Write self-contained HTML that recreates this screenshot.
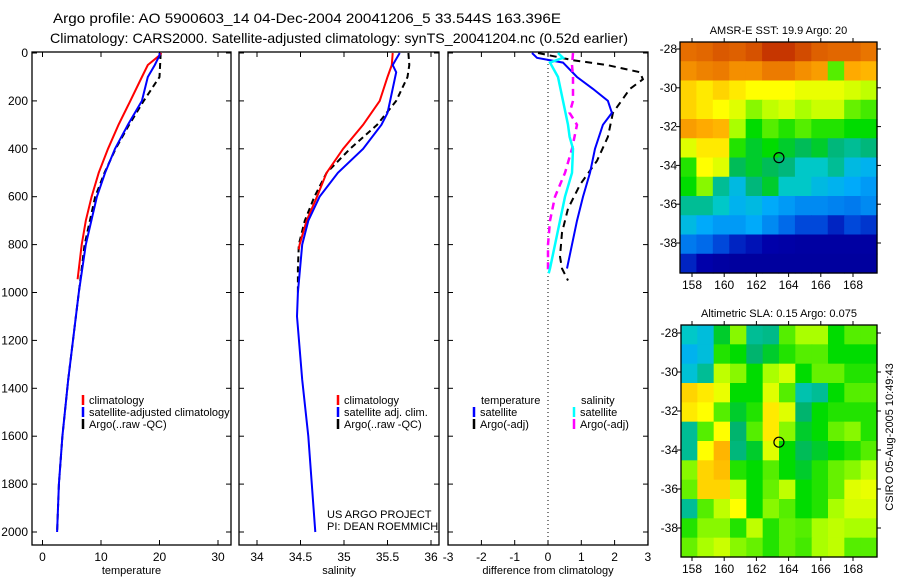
<!DOCTYPE html>
<html><head><meta charset="utf-8"><style>
html,body{margin:0;padding:0;background:#fff;}
svg{display:block;font-family:"Liberation Sans",sans-serif;}
</style></head><body>
<svg id="fig" width="900" height="580" viewBox="0 0 900 580" xmlns="http://www.w3.org/2000/svg">
<text x="53" y="23" font-size="14" textLength="508" lengthAdjust="spacingAndGlyphs">Argo profile: AO 5900603_14 04-Dec-2004 20041206_5 33.544S 163.396E</text>
<text x="50" y="43" font-size="14" textLength="578" lengthAdjust="spacingAndGlyphs">Climatology: CARS2000. Satellite-adjusted climatology: synTS_20041204.nc (0.52d earlier)</text>
<g id="plots"></g>
</svg>
<script>
// ---------- data ----------
const depthTicks=[0,200,400,600,800,1000,1200,1400,1600,1800,2000];
const tempTicks=[0,10,20,30];
const salTicks=[34,34.5,35,35.5,36];
const diffTicks=[-3,-2,-1,0,1,2,3];
// temperature profiles
const tClimP=[0,10,50,100,200,300,400,500,600,700,800,945];
const tClimV=[20.3,20.0,18.0,17.0,15.0,13.0,11.2,9.6,8.4,7.4,6.7,6.0];
const tSatP=[0,10,50,100,200,300,400,500,600,800,1000,1364,1600,1800,2000];
const tSatV=[20.0,20.0,19.2,18.0,17.0,14.6,12.4,10.7,9.3,7.4,6.2,4.4,3.4,2.8,2.5];
const tArgoP=[0,50,100,200,300,400,500,600,800,1000,1364,1600,1800,2000];
const tArgoV=[20.2,20.1,20.0,17.3,14.8,12.5,10.6,9.0,7.2,6.2,4.4,3.4,2.8,2.5];
// salinity profiles
const sClimP=[0,50,100,200,300,400,500,600,700,800,820];
const sClimV=[35.56,35.55,35.5,35.41,35.22,34.99,34.8,34.69,34.57,34.49,34.48];
const sSatP=[0,50,80,200,250,300,400,500,600,700,800,1000,1100,1364,1600,2000];
const sSatV=[35.64,35.56,35.6,35.53,35.5,35.43,35.22,34.93,34.72,34.59,34.52,34.47,34.46,34.52,34.59,34.67];
const sArgoP=[0,50,100,200,300,400,500,600,700,800,900,1000];
const sArgoV=[35.74,35.75,35.73,35.6,35.38,35.07,34.8,34.66,34.55,34.48,34.47,34.47];
// differences
const dTSatP=[0,20,40,100,150,200,250,300,400,500,600,700,800,900];
const dTSatV=[-0.48,-0.33,0.45,0.87,1.35,1.8,1.92,1.65,1.41,1.26,1.05,0.87,0.72,0.57];
const dTArgoP=[0,30,50,80,110,150,250,350,450,550,650,750,850,900,950];
const dTArgoV=[-0.3,0.75,1.77,2.76,2.85,2.46,1.95,1.8,1.47,0.96,0.6,0.42,0.36,0.42,0.6];
const dSSatP=[0,20,40,100,200,300,350,400,500,600,700,800,900,920];
const dSSatV=[0.3,0.45,0.06,0.3,0.45,0.6,0.65,0.75,0.72,0.51,0.36,0.21,0.06,0.02];
const dSArgoP=[0,50,100,200,250,300,400,500,600,700,800,900,920];
const dSArgoV=[0.75,0.72,0.75,0.75,0.65,0.87,0.72,0.51,0.21,0.06,0.0,0.0,0.0];
// maps (colour index 0..10, rows north->south)
const lonTicks=[158,160,162,164,166,168];
const latTicks=[-28,-30,-32,-34,-36,-38];
const sstGrid=[
[8.5,8.6,8.8,8.7,8.9,9.3,9.3,9,8.7,8.6,8.6,8.4],
[8,8.2,8.3,8,8,8.3,8.3,8,7.8,5.5,7.6,7.5],
[7.2,7,7.2,7,6.8,6.8,6.8,6.6,6.6,6.6,6.4,6.2],
[7.2,7,6.8,6.5,5.8,6.2,6.4,6.0,6.3,6.3,5.6,5.4],
[7.8,7.6,7.5,6,5,5.5,5.2,5.5,5.2,5.2,5,5],
[6.5,7,7,5.2,4.8,5,4.8,4.6,4.8,4.4,4.2,4.4],
[5.2,6.8,6.5,4.6,4.8,4.6,4.4,3.8,3.8,4.2,3.4,3.2],
[5,5.8,4.2,3.4,4.4,4.8,3.8,3.8,3.4,3.2,3,2.8],
[4.2,4.2,3.8,3.2,3.4,3.0,2.8,2.6,2.6,2.5,2.4,2.6],
[3.4,3.0,2.8,2.8,3.0,2.6,2.2,1.8,1.8,1.4,1.8,1.6],
[2.4,2.2,1.8,1.4,1.2,1.0,0.9,0.8,0.8,0.8,0.8,0.8],
[1.4,1.0,0.8,0.7,0.7,0.7,0.7,0.7,0.7,0.7,0.7,0.7]];
const slaGrid=[
[3.8,3.5,4.8,5.8,4.2,4.3,5.5,6,6,5,5.5,5.5],
[3.2,3.5,5.2,5,4.5,4.8,5.2,5.5,5.5,5,5,5],
[3.6,4.2,6.2,5.8,5,6,6.4,5,5.6,5.6,5.2,5.2],
[7.2,7,6.6,5,5,6.5,5.5,4,4.2,5,5.5,5.5],
[7,6.8,5.5,4.8,5.2,7,6.5,4.5,5,5.2,5.2,5.2],
[4.2,5.5,6.8,4.5,5.5,7,5.8,4.8,5,5.6,5.8,5.2],
[4.2,6.8,7.5,4.4,4.8,6.5,5,4.6,4.8,5,5.2,5.5],
[5.8,7.2,7.4,5.2,5,5.5,5,4.8,5.2,5.6,5.8,6.2],
[5.6,7.2,7.2,6.2,5,5.6,6.2,5,5.2,5.6,6.5,6.6],
[4.2,5.5,6.2,6.8,5,5.8,5.5,5,5.2,6,6.4,6.4],
[5.2,5.8,5.8,5.2,6.2,5.2,5.6,5.5,6,6.2,6,6],
[5.6,6,6.3,5.8,5.6,5.2,5.6,5.4,6,6.2,5.5,5.5]];
const argoLon=163.4, argoLat=-33.6;

// ---------- helpers ----------
const NS="http://www.w3.org/2000/svg";
const root=document.getElementById('plots');
function mk(tag,attrs,parent){const e=document.createElementNS(NS,tag);for(const k in attrs)e.setAttribute(k,attrs[k]);(parent||root).appendChild(e);return e;}
function txt(x,y,s,size,anchor,parent){const t=mk('text',{x:x,y:y,'font-size':size,'text-anchor':anchor||'start'},parent);t.textContent=s;return t;}
const Y=p=>53+p*0.2395;
const PT=v=>42.5+v*5.85;
const PS=v=>257+(v-34)*87;
const PD=v=>548+v*33.3;
const TOP=52,BOT=545;

function frame(x0,x1,name){
  const r=mk('rect',{x:x0,y:TOP,width:x1-x0,height:BOT-TOP,fill:'none',stroke:'#000','stroke-width':1.3});
  
  
  depthTicks.forEach(p=>{mk('line',{x1:x0,x2:x0+5,y1:Y(p),y2:Y(p),stroke:'#000'});mk('line',{x1:x1,x2:x1-5,y1:Y(p),y2:Y(p),stroke:'#000'});});
}
function xticks(ticks,fx,x0,x1,fmt,label,name){
  ticks.forEach(v=>{const x=fx(v);mk('line',{x1:x,x2:x,y1:BOT,y2:BOT-5,stroke:'#000'});mk('line',{x1:x,x2:x,y1:TOP,y2:TOP+5,stroke:'#000'});
    const t=txt(x,561,fmt(v),12,'middle');});
  const l=txt((x0+x1)/2,574,label,11,'middle');
  
  
}
function line(P,V,fx,color,dash,name,w){
  const d=P.map((p,i)=>(i?'L':'M')+fx(V[i]).toFixed(1)+' '+Y(p).toFixed(1)).join(' ');
  const e=mk('path',{d:d,fill:'none',stroke:color,'stroke-width':w||2,'stroke-dasharray':dash||'none'});
  
  
}
function legend(x,y,color,label,name){
  mk('line',{x1:x,x2:x,y1:y-9,y2:y+1,stroke:color,'stroke-width':2.5});
  const t=txt(x+6,y,label,11);
  
  
}

// ---------- panels ----------
frame(32,231,'temperature-panel');frame(239,439,'salinity-panel');frame(448,648,'difference-panel');
depthTicks.forEach(p=>{const t=txt(28,Y(p)+4,String(p),12,'end');});
xticks(tempTicks,PT,32,231,String,'temperature','temperature-axis-title');
xticks(salTicks,PS,239,439,String,'salinity','salinity-axis-title');
xticks(diffTicks,PD,448,648,String,'difference from climatology','difference-axis-title');
mk('line',{x1:PD(0),x2:PD(0),y1:TOP,y2:BOT,stroke:'#000','stroke-dasharray':'1 3'});

line(tArgoP,tArgoV,PT,'#000','6 4','temp-argo-line');
line(tClimP,tClimV,PT,'#f00','','temp-climatology-line');
line(tSatP,tSatV,PT,'#00f','','temp-satellite-line');
line(sArgoP,sArgoV,PS,'#000','6 4','sal-argo-line');
line(sClimP,sClimV,PS,'#f00','','sal-climatology-line');
line(sSatP,sSatV,PS,'#00f','','sal-satellite-line');
line(dTArgoP,dTArgoV,PD,'#000','7 5','diff-temp-argo-line');
line(dTSatP,dTSatV,PD,'#00f','','diff-temp-satellite-line');
line(dSArgoP,dSArgoV,PD,'#f0f','7 5','diff-sal-argo-line',2.5);
line(dSSatP,dSSatV,PD,'#0ff','','diff-sal-satellite-line',2.5);

legend(83,404,'#f00','climatology','legend-climatology');
legend(83,416,'#00f','satellite-adjusted climatology','legend-satellite');
legend(83,428,'#000','Argo(..raw -QC)','legend-argo');
legend(338,404,'#f00','climatology','legend-sal-climatology');
legend(338,416,'#00f','satellite adj. clim.','legend-sal-satellite');
legend(338,428,'#000','Argo(..raw -QC)','legend-sal-argo');
txt(481,404,'temperature',11);
legend(474,416,'#00f','satellite','legend-diff-temp-satellite');
legend(474,428,'#000','Argo(-adj)','legend-diff-temp-argo');
txt(581,404,'salinity',11);
legend(574,416,'#0ff','satellite','legend-diff-sal-satellite');
legend(574,428,'#f0f','Argo(-adj)','legend-diff-sal-argo');
txt(327,518,'US ARGO PROJECT',11);
txt(327,530,'PI: DEAN ROEMMICH',11);

// ---------- maps ----------
const cmapStops=[[0,[0,0,130]],[1,[0,0,170]],[2,[0,90,230]],[3,[0,170,250]],[3.8,[0,200,200]],[4.5,[0,180,110]],[5,[0,220,0]],[6,[170,255,0]],[6.8,[255,255,0]],[7.6,[255,170,0]],[8.5,[230,110,0]],[9.5,[190,40,0]]];
function cmap(v){
  if(v<=cmapStops[0][0])return 'rgb('+cmapStops[0][1].join(',')+')';
  for(let i=1;i<cmapStops.length;i++){
    if(v<=cmapStops[i][0]){const a=cmapStops[i-1],b=cmapStops[i],t=(v-a[0])/(b[0]-a[0]);
      return 'rgb('+a[1].map((c,k)=>Math.round(c+(b[1][k]-c)*t)).join(',')+')';}
  }
  return 'rgb('+cmapStops[cmapStops.length-1][1].join(',')+')';
}
function map(grid,x0,y0,x1,y1,lat28,lat38,title,name){
  const g=mk('g',{});
  
  
  const nr=grid.length,nc=grid[0].length,cw=(x1-x0)/nc,ch=(y1-y0)/nr;
  grid.forEach((row,r)=>row.forEach((v,c)=>{
    const cell=mk('rect',{x:(x0+c*cw).toFixed(2),y:(y0+r*ch).toFixed(2),width:(cw+0.6).toFixed(2),height:(ch+0.6).toFixed(2),fill:cmap(v)},g);
    
    
  }));
  const LX=lon=>692+(lon-158)*16.1;
  const LY=lat=>lat28+(-28-lat)*(lat38-lat28)/10;
  mk('rect',{x:x0,y:y0,width:x1-x0,height:y1-y0,fill:'none',stroke:'#000','stroke-width':1.3},g);
  lonTicks.forEach(l=>{const x=LX(l);mk('line',{x1:x,x2:x,y1:y1,y2:y1+4,stroke:'#000'},g);mk('line',{x1:x,x2:x,y1:y0,y2:y0-4,stroke:'#000'},g);txt(x,y1+16,String(l),12,'middle',g);});
  latTicks.forEach(l=>{const y=LY(l);mk('line',{x1:x0,x2:x0-4,y1:y,y2:y,stroke:'#000'},g);mk('line',{x1:x1,x2:x1+4,y1:y,y2:y,stroke:'#000'},g);txt(x0-3,y+4,String(l),12,'end',g);});
  const c=mk('circle',{cx:LX(argoLon),cy:LY(argoLat),r:5,fill:'none',stroke:'#000','stroke-width':1.2},g);
  
  
  const t=txt((x0+x1)/2,y0-8,title,11,'middle',g);
  
  
}
map(sstGrid,680,42,877,273,49,243,'AMSR-E SST: 19.9 Argo: 20','sst-map');
map(slaGrid,681,325,877,557,333,528,'Altimetric SLA: 0.15 Argo: 0.075','sla-map');
const st=txt(0,0,'CSIRO 05-Aug-2005 10:49:43',11,'middle');
st.setAttribute('transform','translate(893,437) rotate(-90)');


</script>
</body></html>
